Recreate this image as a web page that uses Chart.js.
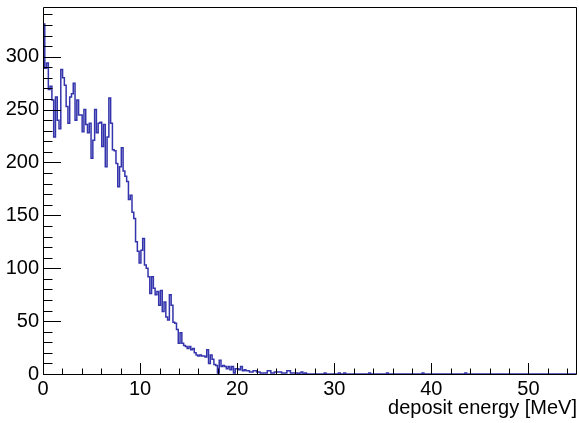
<!DOCTYPE html>
<html>
<head>
<meta charset="utf-8">
<script src="https://cdn.jsdelivr.net/npm/chart.js@4"></script>
<style>
  body { margin: 0; background: #fff; }
  canvas { display: block; }
</style>
</head>
<body>
<canvas id="hist" width="579" height="423"></canvas>
<script>
// histogram binning (MeV)
const xMin = 0;
const xMax = 55;
const nBins = 300;
const binWidth = (xMax - xMin) / nBins;

// counts per bin (bins 0..141)
const counts = [
  331, 289, 294, 269, 272, 259, 224, 262, 240, 232, 288, 280, 273, 253, 237, 262,
  265, 275, 240, 259, 245, 245, 229, 250, 236, 228, 237, 204, 221, 250, 228, 237,
  238, 215, 236, 196, 224, 261, 237, 212, 211, 199, 177, 196, 214, 192, 187, 182,
  165, 169, 153, 147, 125, 116, 105, 117, 128, 103, 100, 92, 76, 92, 81, 75,
  78, 65, 79, 59, 68, 54, 51, 75, 65, 49, 48, 42, 29, 39, 29, 27,
  26, 24, 26, 23, 24, 20, 18, 17,
  18, 17, 17, 16, 23, 10, 18, 14, 9, 8, 1, 13, 7, 8, 7, 5,
  7, 4, 7, 1, 5, 5, 4, 7, 3, 4, 3, 3, 2, 2, 3, 3,
  2, 2, 1, 1, 1, 1, 3, 3, 1, 1, 2, 2, 2, 2, 1, 1,
  1, 3, 3, 1, 1, 1
];
// sparse tail: bin index and count, all other bins empty
const tailBins = [142, 144, 145, 147, 158, 166, 169, 183, 193, 213, 237];
const tailCounts = [1, 1, 2, 1, 1, 1, 1, 1, 1, 1, 1];

// axis ticks
const xTickValues = [0, 10, 20, 30, 40, 50];
const yTickValues = [0, 50, 100, 150, 200, 250, 300];
const xMinorStep = 2;
const yMinorStep = 10;
const yMax = 347;
const xTitle = 'deposit energy [MeV]';

// fill all bins, then build step points at the bin low edges
const allCounts = [];
for (let i = 0; i < nBins; i++) allCounts.push(i < counts.length ? counts[i] : 0);
tailBins.forEach((b, k) => { allCounts[b] = tailCounts[k]; });

const points = allCounts.map((c, i) => ({x: xMin + i * binWidth, y: c}));
points.push({x: xMax, y: 0});

// ROOT-like frame with inner ticks
const frameTicks = {
  id: 'frameTicks',
  afterDraw(chart) {
    const ctx = chart.ctx;
    const a = chart.chartArea;
    const xs = chart.scales.x;
    const ys = chart.scales.y;
    ctx.save();
    ctx.strokeStyle = '#000';
    ctx.lineWidth = 1;
    ctx.beginPath();
    ctx.rect(Math.round(a.left) + 0.5, Math.round(a.top) + 0.5,
      Math.round(a.right - a.left) - 1, Math.round(a.bottom - a.top));
    // x ticks
    for (let v = xMin; v <= xMax + 1e-9; v += xMinorStep) {
      const px = Math.round(xs.getPixelForValue(v)) + 0.5;
      const len = (v % 10 === 0) ? 11 : 5.5;
      ctx.moveTo(px, a.bottom);
      ctx.lineTo(px, a.bottom - len);
    }
    // y ticks
    for (let v = 0; v <= yMax; v += yMinorStep) {
      const py = Math.round(ys.getPixelForValue(v)) + 0.5;
      const len = (v % 50 === 0) ? 18 : 9.5;
      ctx.moveTo(a.left, py);
      ctx.lineTo(a.left + len, py);
    }
    ctx.stroke();
    ctx.restore();
  }
};

const labelFont = {family: "'Liberation Sans', Arial, sans-serif", size: 20};

new Chart(document.getElementById('hist'), {
  type: 'line',
  data: {
    datasets: [{
      data: points,
      stepped: true,
      borderColor: '#3434ac',
      borderWidth: 1.5,
      pointRadius: 0,
      fill: false
    }]
  },
  options: {
    responsive: false,
    animation: false,
    layout: {padding: {left: 0, right: 2, top: 7, bottom: 0}},
    plugins: {legend: {display: false}, tooltip: {enabled: false}},
    scales: {
      x: {
        type: 'linear',
        min: xMin,
        max: xMax,
        afterBuildTicks: (s) => { s.ticks = xTickValues.map(v => ({value: v})); },
        afterFit: (s) => { s.height = 49; s.paddingLeft = 0; s.paddingRight = 0; },
        grid: {display: false, drawTicks: false},
        border: {display: false},
        ticks: {font: labelFont, color: '#000', padding: 3, maxRotation: 0, autoSkip: false},
        title: {display: true, text: xTitle, align: 'end', font: labelFont, color: '#000', padding: {top: 0, bottom: 3}}
      },
      y: {
        min: 0,
        max: yMax,
        afterBuildTicks: (s) => { s.ticks = yTickValues.map(v => ({value: v})); },
        afterFit: (s) => { s.width = 43; s.paddingTop = 0; s.paddingBottom = 0; },
        grid: {display: false, drawTicks: false},
        border: {display: false},
        ticks: {font: labelFont, color: '#000', padding: 4, autoSkip: false}
      }
    }
  },
  plugins: [frameTicks]
});
</script>
</body>
</html>
